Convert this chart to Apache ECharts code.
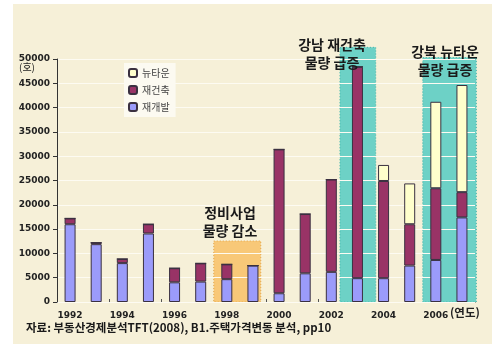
<!DOCTYPE html>
<html>
<head>
<meta charset="utf-8">
<script src="https://cdn.jsdelivr.net/npm/echarts@6/dist/echarts.min.js"></script>
<style>
  html, body { margin: 0; padding: 0; background: #ffffff; }
  #chart { position: absolute; left: 0; top: 0; width: 502px; height: 344px; }
</style>
</head>
<body>
<div id="chart"></div>
<script>
// Housing supply by project type, 1992-2007 (units)
const years = ['1992','1993','1994','1995','1996','1997','1998','1999',
               '2000','2001','2002','2003','2004','2005','2006','2007'];
const redevelopment = [16000, 11900, 8000, 14100, 4050, 4200, 4700, 7500,
                       1800, 5900, 6200, 4900, 4900, 7500, 8650, 17400];
const reconstruction = [1200, 300, 850, 1900, 2900, 3750, 3050, 0,
                        29600, 12200, 19000, 43500, 20000, 8500, 14750, 5200];
const newTown = [0, 0, 0, 0, 0, 0, 0, 0,
                 0, 0, 0, 0, 3300, 8400, 17800, 22050];
const yTicks = [0, 5000, 10000, 15000, 20000, 25000, 30000, 35000, 40000, 45000, 50000];

// Shaded periods: [from, to, top]; from/to in fractional category positions
const periods = [
  [5.5, 7.3, 12550, 'orange'],
  [10.33, 11.7, 52400, 'teal'],
  [13.5, 15.55, 50300, 'teal']
];
const periodFill = { orange: '#f8c878', teal: '#6dd1c6' };
const periodEdge = { orange: '#e3a64a', teal: '#3fb3a8' };

const chart = echarts.init(document.getElementById('chart'), null, { renderer: 'canvas' });

const barStyle = (color) => ({ color: color, borderColor: '#3a3040', borderWidth: 1 });
const noteFont = 'bold 14px "Noto Sans CJK KR"';

// pixel x of a fractional category position
function bandX(api, pos) {
  const base = Math.floor(pos);
  return api.coord([base, 0])[0] + (pos - base) * api.size([1, 0])[0];
}

chart.setOption({
  backgroundColor: '#ffffff',
  animation: false,
  textStyle: { fontFamily: '"Noto Sans CJK KR", "DejaVu Sans", sans-serif' },
  grid: { left: 57, right: 27, top: 59, bottom: 42 },
  legend: {
    orient: 'vertical',
    left: 124, top: 63,
    itemWidth: 8, itemHeight: 8, itemGap: 7,
    padding: [5, 6, 5, 4],
    backgroundColor: '#fcfaf1',
    textStyle: { fontSize: 10, color: '#444', fontFamily: '"Noto Sans CJK KR", sans-serif' },
    data: ['뉴타운', '재건축', '재개발']
  },
  title: {
    text: '자료: 부동산경제분석TFT(2008), B1.주택가격변동 분석, pp10',
    left: 26, top: 322, padding: 0,
    textStyle: { fontSize: 11.5, fontWeight: 'bold', color: '#1a1a1a',
                 fontFamily: '"Noto Sans CJK KR", sans-serif' }
  },
  xAxis: {
    type: 'category',
    data: years,
    axisLine: { onZero: false, lineStyle: { color: '#333', width: 1 } },
    axisTick: { show: true, inside: true, length: 3, lineStyle: { color: '#555' } },
    axisLabel: {
      interval: 1, margin: 9, color: '#222', fontSize: 9, fontWeight: 'bold',
      fontFamily: '"DejaVu Sans", sans-serif'
    },
    splitLine: { show: false }
  },
  yAxis: {
    type: 'value',
    min: yTicks[0], max: yTicks[yTicks.length - 1], interval: 5000,
    axisLine: { show: true, lineStyle: { color: '#333', width: 1 } },
    axisTick: { show: true, length: 4, lineStyle: { color: '#333' } },
    axisLabel: {
      color: '#222', fontSize: 9, fontWeight: 'bold',
      fontFamily: '"DejaVu Sans", sans-serif', margin: 7,
      formatter: (v) => String(v)
    },
    splitLine: { show: true, lineStyle: { color: '#fdfbf2', width: 1 } },
    z: 1.5
  },
  series: [
    {
      type: 'custom',
      z: 1,
      clip: false,
      silent: true,
      data: periods.map((p) => [Math.floor(p[0]), p[2]]),
      renderItem: function (params, api) {
        const p = periods[params.dataIndex];
        const x0 = bandX(api, p[0]);
        const x1 = bandX(api, p[1]);
        const y0 = api.coord([0, 0])[1];
        const y1 = api.coord([0, p[2]])[1];
        return {
          type: 'rect',
          shape: { x: x0, y: y1, width: x1 - x0, height: y0 - y1 },
          style: { fill: periodFill[p[3]], stroke: periodEdge[p[3]], lineWidth: 1, lineDash: [1, 2] }
        };
      }
    },
    {
      name: '재개발', type: 'bar', stack: 'supply', barWidth: 11, z: 2,
      itemStyle: barStyle('#9b9bfa'), data: redevelopment
    },
    {
      name: '재건축', type: 'bar', stack: 'supply', barWidth: 11, z: 2,
      itemStyle: barStyle('#993366'), data: reconstruction
    },
    {
      name: '뉴타운', type: 'bar', stack: 'supply', barWidth: 11, z: 2,
      itemStyle: barStyle('#ffffcc'), data: newTown
    }
  ],
  graphic: [
    // cream backdrop panel behind the plot
    { type: 'rect', z: -10, silent: true, left: 13, top: 4,
      shape: { width: 479, height: 340 }, style: { fill: '#f6f0d8' } },
    { type: 'text', z: 100, x: 19, y: 62,
      style: { text: '(호)', font: '10px "Noto Sans CJK KR"', fill: '#222' } },
    { type: 'text', z: 100, x: 450, y: 307,
      style: { text: '(연도)', font: 'bold 11.5px "Noto Sans CJK KR"', fill: '#222' } },
    { type: 'text', z: 100, x: 230, y: 204,
      style: { text: '정비사업\n물량 감소', font: noteFont, fill: '#1a1a1a',
               align: 'center', lineHeight: 18 } },
    { type: 'text', z: 100, x: 332, y: 36,
      style: { text: '강남 재건축\n물량 급증', font: noteFont, fill: '#1a1a1a',
               align: 'center', lineHeight: 18 } },
    { type: 'text', z: 100, x: 445, y: 43,
      style: { text: '강북 뉴타운\n물량 급증', font: noteFont, fill: '#1a1a1a',
               align: 'center', lineHeight: 18 } }
  ]
});
</script>
</body>
</html>
